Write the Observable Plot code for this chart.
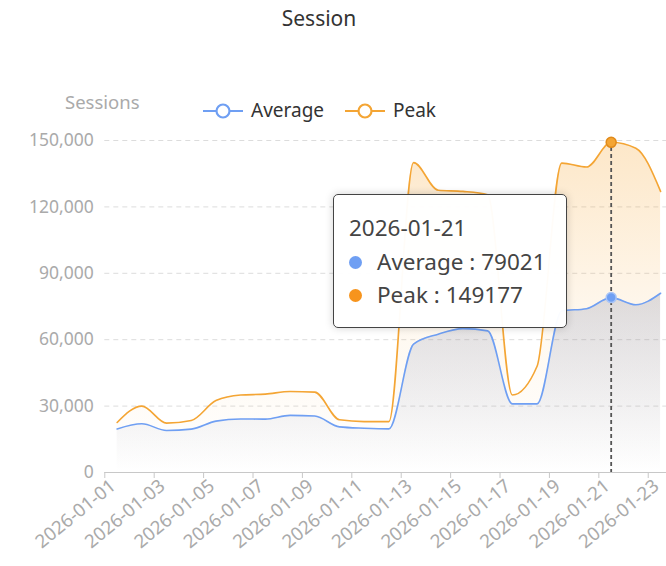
<!DOCTYPE html>
<html>
<head>
<meta charset="utf-8">
<script src="https://cdn.jsdelivr.net/npm/d3@7"></script>
<script src="https://cdn.jsdelivr.net/npm/@observablehq/plot@0.6"></script>
<style>
  html, body { margin: 0; padding: 0; background: #fff; overflow: hidden; }
  #wrap { position: relative; width: 666px; height: 566px; font-family: "Noto Sans", sans-serif; }
  #wrap svg.plot { position: absolute; left: 0; top: 0; }
  .abs { position: absolute; white-space: nowrap; line-height: 1; }
  #title { left: 0; width: 638px; top: 8px; text-align: center; font-size: 21px; color: #333; }
  #yname { left: 65px; top: 93px; font-size: 18.5px; color: #aaa; }
  .leg { display: flex; align-items: center; font-size: 19px; color: #333; }
  .leg svg { margin-right: 8px; }
  #tooltip { left: 333px; top: 194px; width: 234px; height: 134px; border: 1.5px solid #444; border-radius: 5px;
             background: rgba(255,255,255,0.97); box-shadow: 0 0 8px rgba(0,0,0,0.18); box-sizing: border-box;
             font-size: 22.5px; color: #444; }
  #tooltip .row { position: absolute; left: 15px; display: flex; align-items: center; white-space: nowrap; }
  #tooltip .dot { width: 13px; height: 13px; border-radius: 50%; margin-right: 15px; display: inline-block; }
</style>
</head>
<body>
<div id="wrap"></div>
<script>
// ---------- data ----------
const dates = ["2026-01-01","2026-01-02","2026-01-03","2026-01-04","2026-01-05","2026-01-06","2026-01-07","2026-01-08",
  "2026-01-09","2026-01-10","2026-01-11","2026-01-12","2026-01-13","2026-01-14","2026-01-15","2026-01-16",
  "2026-01-17","2026-01-18","2026-01-19","2026-01-20","2026-01-21","2026-01-22","2026-01-23"];
const average = [19700, 22000, 19000, 19600, 23200, 24200, 24100, 25800, 25500, 20600, 20000, 19700,
  58000, 62500, 65000, 64000, 31000, 31000, 73000, 74000, 79021, 75800, 81000];
const peak = [22600, 30000, 22300, 23500, 32500, 35000, 35400, 36600, 36300, 23800, 23000, 23000,
  140000, 127500, 127000, 125500, 35000, 48000, 139800, 138000, 149177, 146500, 127000];
const seriesNames = ["Average", "Peak"];
const yTicks = [0, 30000, 60000, 90000, 120000, 150000];
const xLabelDates = ["2026-01-01","2026-01-03","2026-01-05","2026-01-07","2026-01-09","2026-01-11",
  "2026-01-13","2026-01-15","2026-01-17","2026-01-19","2026-01-21","2026-01-23"];
const selectedDate = "2026-01-21";
const titleText = "Session";
const yAxisName = "Sessions";

// ---------- styles ----------
const blue = "#6f9ff3";
const orange = "#f4a534";
const parse = s => new Date(s + "T00:00:00Z");
const halfDay = 12 * 3600 * 1000;

const rows = dates.map((d, i) => ({date: parse(d), average: average[i], peak: peak[i]}));
const selRows = rows.filter((r, i) => dates[i] === selectedDate);
const labelTicks = xLabelDates.map(parse);
const boundaryTicks = labelTicks.map(d => new Date(+d - halfDay));

const chart = Plot.plot({
  width: 666,
  height: 566,
  marginLeft: 104.3,
  marginRight: 0,
  marginTop: 140,
  marginBottom: 94,
  style: {fontFamily: "Noto Sans, sans-serif", background: "transparent", overflow: "visible"},
  x: {type: "utc", domain: [new Date("2025-12-31T12:00:00Z"), new Date("2026-01-23T05:45:00Z")]},
  y: {domain: [0, 150000]},
  marks: [
    Plot.gridY(yTicks.filter(v => v > 0), {stroke: "#dcdcdc", strokeOpacity: 1, strokeDasharray: "5,4"}),
    Plot.areaY(rows, {x: "date", y: "average", curve: "monotone-x", fill: "url(#gradAvg)"}),
    Plot.areaY(rows, {x: "date", y: "peak", curve: "monotone-x", fill: "url(#gradPeak)"}),
    Plot.ruleY([0], {stroke: "#c8c8c8", strokeWidth: 1.2}),
    Plot.axisX({ticks: boundaryTicks, tickSize: 6, tickFormat: () => "", stroke: "#c8c8c8", label: null}),
    Plot.axisX({ticks: labelTicks, tickSize: 0, tickPadding: 11, tickRotate: -39, dx: -4,
      tickFormat: d3.utcFormat("%Y-%m-%d"), fill: "#aaa", fontSize: 18.5, label: null}),
    Plot.axisY({ticks: yTicks, tickSize: 0, tickPadding: 11, tickFormat: d3.format(","),
      fill: "#aaa", fontSize: 17.5, label: null}),
    Plot.ruleX(selRows, {x: "date", stroke: "#555", strokeWidth: 1.8, strokeDasharray: "4,3"}),
    Plot.lineY(rows, {x: "date", y: "average", curve: "monotone-x", stroke: blue, strokeWidth: 1.6}),
    Plot.lineY(rows, {x: "date", y: "peak", curve: "monotone-x", stroke: orange, strokeWidth: 1.6}),
    Plot.dot(selRows, {x: "date", y: "average", r: 5, fill: blue, stroke: "#a9c5f7", strokeWidth: 1.5}),
    Plot.dot(selRows, {x: "date", y: "peak", r: 5, fill: orange, stroke: "#e08a1a", strokeWidth: 1.5})
  ]
});
chart.classList.add("plot");

// gradient definitions (relative to each area's bounding box)
const defs = d3.select(chart).insert("defs", ":first-child");
const gA = defs.append("linearGradient").attr("id", "gradAvg").attr("x1", 0).attr("y1", 0).attr("x2", 0).attr("y2", 1);
gA.append("stop").attr("offset", "0%").attr("stop-color", "rgb(90,112,170)").attr("stop-opacity", 0.22);
gA.append("stop").attr("offset", "100%").attr("stop-color", "rgb(90,112,170)").attr("stop-opacity", 0);
const gP = defs.append("linearGradient").attr("id", "gradPeak").attr("x1", 0).attr("y1", 0).attr("x2", 0).attr("y2", 1);
gP.append("stop").attr("offset", "0%").attr("stop-color", "rgb(247,170,60)").attr("stop-opacity", 0.28);
gP.append("stop").attr("offset", "55%").attr("stop-color", "rgb(247,170,60)").attr("stop-opacity", 0.08);
gP.append("stop").attr("offset", "100%").attr("stop-color", "rgb(247,170,60)").attr("stop-opacity", 0);

const wrap = document.getElementById("wrap");
wrap.appendChild(chart);

// title
const t = document.createElement("div");
t.className = "abs"; t.id = "title"; t.textContent = titleText;
wrap.appendChild(t);

// y axis name
const yn = document.createElement("div");
yn.className = "abs"; yn.id = "yname"; yn.textContent = yAxisName;
wrap.appendChild(yn);

// legend
const legendColors = [blue, orange];
const legendLeft = [203, 345];
seriesNames.forEach((name, i) => {
  const el = document.createElement("div");
  el.className = "abs leg";
  el.style.left = legendLeft[i] + "px";
  el.style.top = "101px";
  el.innerHTML = `<svg width="40" height="18"><line x1="0" y1="9" x2="40" y2="9" stroke="${legendColors[i]}" stroke-width="2.2"/>` +
    `<circle cx="20" cy="9" r="6.5" fill="#fff" stroke="${legendColors[i]}" stroke-width="2.2"/></svg><span>${name}</span>`;
  wrap.appendChild(el);
});

// tooltip
const idx = dates.indexOf(selectedDate);
const tip = document.createElement("div");
tip.className = "abs"; tip.id = "tooltip";
tip.innerHTML =
  `<div class="row" style="top:22px">${selectedDate}</div>` +
  `<div class="row" style="top:56px"><span class="dot" style="background:${blue}"></span>${seriesNames[0]} : ${average[idx]}</div>` +
  `<div class="row" style="top:89px"><span class="dot" style="background:#f7941d"></span>${seriesNames[1]} : ${peak[idx]}</div>`;
wrap.appendChild(tip);
</script>
</body>
</html>
